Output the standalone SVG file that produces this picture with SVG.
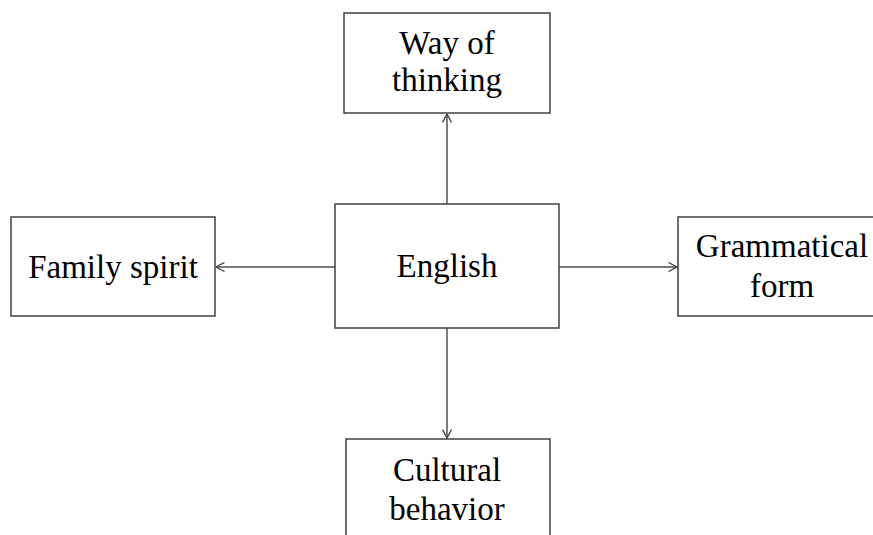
<svg xmlns="http://www.w3.org/2000/svg" width="873" height="535" viewBox="0 0 873 535">
<style>
.box{fill:#fff;stroke:#404040;stroke-width:1.5}
.lbl{font-family:"Liberation Serif","Times New Roman",serif;font-size:33px;fill:#000;text-anchor:middle}
.con{stroke:#505050;stroke-width:1.5;fill:none;marker-end:url(#arr)}
</style>
<defs>
<marker id="arr" viewBox="0 0 10 10" refX="9.5" refY="5" markerWidth="10" markerHeight="10" markerUnits="userSpaceOnUse" orient="auto">
<path d="M1,0.5 L9.5,5 L1,9.5" fill="none" stroke="#404040" stroke-width="1.3"/>
</marker>
</defs>
<rect width="873" height="535" fill="#fff"/>
<g id="connectors">
<line class="con" x1="447" y1="204" x2="447" y2="114"/>
<line class="con" x1="447" y1="328" x2="447" y2="438"/>
<line class="con" x1="335" y1="267" x2="216" y2="267"/>
<line class="con" x1="559" y1="267" x2="677" y2="267"/>
</g>
<g id="english">
<rect class="box" x="335" y="204" width="224" height="124"/>
<text class="lbl" x="447" y="277">English</text>
</g>
<g id="way-of-thinking">
<rect class="box" x="344" y="13" width="206" height="100"/>
<text class="lbl" x="447" y="54">Way of</text>
<text class="lbl" x="447" y="91">thinking</text>
</g>
<g id="family-spirit">
<rect class="box" x="11" y="217" width="204" height="99"/>
<text class="lbl" x="113" y="278">Family spirit</text>
</g>
<g id="grammatical-form">
<rect class="box" x="678" y="217" width="210" height="99"/>
<text class="lbl" x="782" y="257">Grammatical</text>
<text class="lbl" x="782" y="297">form</text>
</g>
<g id="cultural-behavior">
<rect class="box" x="346" y="439" width="204" height="110"/>
<text class="lbl" x="447" y="481">Cultural</text>
<text class="lbl" x="447" y="520">behavior</text>
</g>
</svg>
